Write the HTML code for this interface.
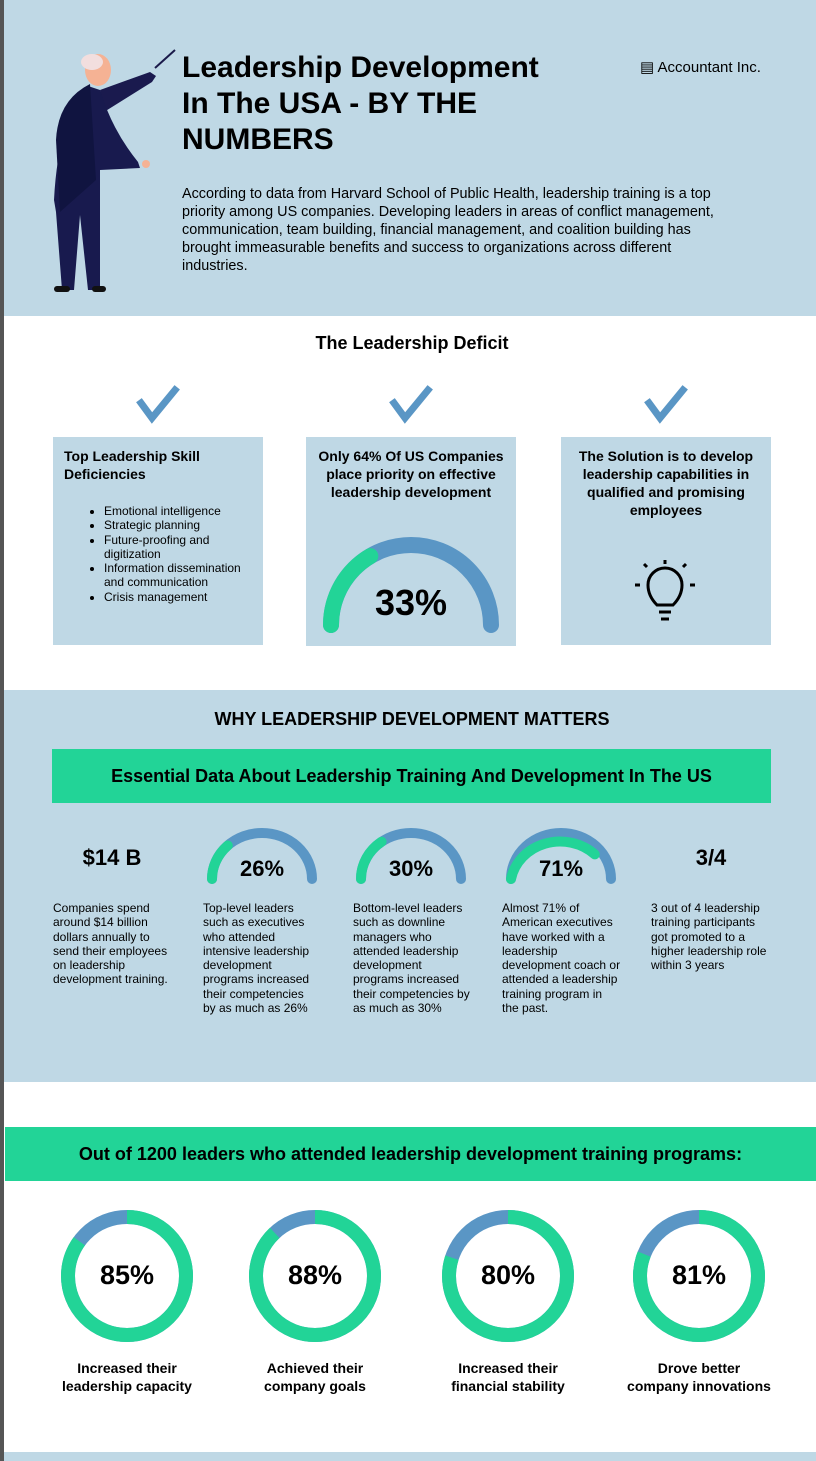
<!DOCTYPE html>
<html><head><meta charset="utf-8"><style>
*{margin:0;padding:0;box-sizing:border-box}
body{width:816px;height:1461px;position:relative;background:#fff;font-family:"Liberation Sans",sans-serif;color:#000;overflow:hidden}
.a{position:absolute}
.blue{background:#bfd8e5}
.c{text-align:center}
.b{font-weight:bold}
.sm{font-size:12px;line-height:14.3px}
</style></head><body>
<div class="a blue" style="left:0;top:0;width:816px;height:316px"></div>
<div class="a blue" style="left:0;top:690px;width:816px;height:392px"></div>
<div class="a blue" style="left:0;top:1452px;width:816px;height:9px"></div>
<div class="a" style="left:0;top:0;width:4px;height:1461px;background:#555"></div>

<svg class="a" style="left:0;top:0" width="816" height="1461">
<line x1="155" y1="68" x2="175" y2="50" stroke="#1a1a4a" stroke-width="2"/>
<path d="M100 90 L150 72 L156 76 L152 82 L104 112 Z" fill="#1a1a4e"/>
<path d="M88 86 Q58 120 54 200 L56 212 L62 290 L74 290 L80 215 L88 290 L100 290 L100 170 L140 168 L138 162 Q112 130 100 90 Z" fill="#181a4e"/>
<path d="M56 140 Q58 100 90 84 L96 180 L60 212 Z" fill="#101440"/>
<ellipse cx="98" cy="70" rx="13" ry="16" fill="#f5b294"/>
<ellipse cx="92" cy="62" rx="11" ry="8" fill="#f2dede"/>
<circle cx="146" cy="164" r="4" fill="#f5b294"/>
<rect x="54" y="286" width="16" height="6" rx="3" fill="#111"/>
<rect x="92" y="286" width="14" height="6" rx="3" fill="#111"/>
<g fill="none" stroke="#5a96c5" stroke-width="7" stroke-linecap="square">
<polyline points="141,403 152,418 175,390"/>
<polyline points="394,403 405,418 428,390"/>
<polyline points="649,403 660,418 683,390"/>
</g>
</svg>

<div class="a b" style="left:182px;top:50px;font-size:30px;line-height:36px;width:380px">Leadership Development In The USA - BY THE NUMBERS</div>
<div class="a" style="left:640px;top:58px;font-size:15px">&#9636; Accountant Inc.</div>
<div class="a" style="left:182px;top:185px;width:548px;font-size:14.4px;line-height:18px">According to data from Harvard School of Public Health, leadership training is a top priority among US companies. Developing leaders in areas of conflict management, communication, team building, financial management, and coalition building has brought immeasurable benefits and success to organizations across different industries.</div>

<div class="a b c" style="left:0;top:333px;width:824px;font-size:18px">The Leadership Deficit</div>
<div class="a blue" style="left:53px;top:437px;width:210px;height:208px"></div>
<div class="a blue" style="left:306px;top:437px;width:210px;height:209px"></div>
<div class="a blue" style="left:561px;top:437px;width:210px;height:208px"></div>
<div class="a b" style="left:64px;top:447px;width:190px;font-size:14px;line-height:18px">Top Leadership Skill Deficiencies</div>
<ul class="a sm" style="left:104px;top:504px;width:150px;list-style:disc">
<li>Emotional intelligence</li><li>Strategic planning</li><li>Future-proofing and digitization</li><li>Information dissemination and communication</li><li>Crisis management</li></ul>
<div class="a b c" style="left:310px;top:447px;width:202px;font-size:14px;line-height:18px">Only 64% Of US Companies place priority on effective leadership development</div>
<div class="a b c" style="left:566px;top:447px;width:200px;font-size:14px;line-height:18px">The Solution is to develop leadership capabilities in qualified and promising employees</div>
<div class="a b c" style="left:311px;top:582px;width:200px;font-size:36px">33%</div>

<div class="a b c" style="left:0;top:709px;width:824px;font-size:18px">WHY LEADERSHIP DEVELOPMENT MATTERS</div>
<div class="a b c" style="left:52px;top:749px;width:719px;height:54px;background:#22d497;font-size:18px;line-height:54px">Essential Data About Leadership Training And Development In The US</div>

<div class="a b c" style="left:53px;top:845px;width:118px;font-size:22px">$14 B</div>
<div class="a b c" style="left:651px;top:845px;width:120px;font-size:22px">3/4</div>
<div class="a b c" style="left:212px;top:856px;width:100px;font-size:22px">26%</div>
<div class="a b c" style="left:361px;top:856px;width:100px;font-size:22px">30%</div>
<div class="a b c" style="left:511px;top:856px;width:100px;font-size:22px">71%</div>
<div class="a sm" style="left:53px;top:901px;width:118px">Companies spend around $14 billion dollars annually to send their employees on leadership development training.</div>
<div class="a sm" style="left:203px;top:901px;width:114px">Top-level leaders such as executives who attended intensive leadership development programs increased their competencies by as much as 26%</div>
<div class="a sm" style="left:353px;top:901px;width:120px">Bottom-level leaders such as downline managers who attended leadership development programs increased their competencies by as much as 30%</div>
<div class="a sm" style="left:502px;top:901px;width:120px">Almost 71% of American executives have worked with a leadership development coach or attended a leadership training program in the past.</div>
<div class="a sm" style="left:651px;top:901px;width:118px">3 out of 4 leadership training participants got promoted to a higher leadership role within 3 years</div>

<div class="a b c" style="left:5px;top:1127px;width:811px;height:54px;background:#22d497;font-size:18px;line-height:54px">Out of 1200 leaders who attended leadership development training programs:</div>

<svg class="a" style="left:0;top:0" width="816" height="1461">
<g fill="none" stroke-linecap="round">
<path d="M331 625 A80 80 0 0 1 491 625" stroke="#5a96c5" stroke-width="16"/>
<path d="M331 625 A80 80 0 0 1 370.3 556.1" stroke="#22d497" stroke-width="16"/>
<path d="M212 879 A50 46 0 0 1 312 879" stroke="#5a96c5" stroke-width="10"/>
<path d="M212 879 A50 46 0 0 1 227.8 845.5" stroke="#22d497" stroke-width="10"/>
<path d="M361 879 A50 46 0 0 1 461 879" stroke="#5a96c5" stroke-width="10"/>
<path d="M361 879 A50 46 0 0 1 381.6 841.7" stroke="#22d497" stroke-width="10"/>
<path d="M511 879 A50 46 0 0 1 611 879" stroke="#5a96c5" stroke-width="10"/>
<path d="M511 879 A50 46 0 0 1 594.8 854.4" stroke="#22d497" stroke-width="10"/>
</g>
<g fill="none" stroke="#000" stroke-width="3">
<path d="M657 605 Q648 596 648 585 A17 17 0 0 1 682 585 Q682 596 673 605 Z"/>
<line x1="659" y1="612" x2="671" y2="612"/><line x1="661" y1="619" x2="669" y2="619"/>
<line x1="665" y1="560" x2="665" y2="564"/><line x1="640" y1="585" x2="635" y2="585"/><line x1="690" y1="585" x2="695" y2="585"/>
<line x1="647" y1="567" x2="644" y2="564"/><line x1="683" y1="567" x2="686" y2="564"/>
</g>
<g fill="none" stroke-width="14">
<g transform="translate(127 1276) rotate(-90)"><circle r="59" stroke="#5a96c5"/><circle r="59" stroke="#22d497" stroke-dasharray="315.1 400"/></g>
<g transform="translate(315 1276) rotate(-90)"><circle r="59" stroke="#5a96c5"/><circle r="59" stroke="#22d497" stroke-dasharray="326.2 400"/></g>
<g transform="translate(508 1276) rotate(-90)"><circle r="59" stroke="#5a96c5"/><circle r="59" stroke="#22d497" stroke-dasharray="296.6 400"/></g>
<g transform="translate(699 1276) rotate(-90)"><circle r="59" stroke="#5a96c5"/><circle r="59" stroke="#22d497" stroke-dasharray="300.3 400"/></g>
</g>
</svg>
<div class="a b c" style="left:67px;top:1260px;width:120px;font-size:27px">85%</div>
<div class="a b c" style="left:255px;top:1260px;width:120px;font-size:27px">88%</div>
<div class="a b c" style="left:448px;top:1260px;width:120px;font-size:27px">80%</div>
<div class="a b c" style="left:639px;top:1260px;width:120px;font-size:27px">81%</div>
<div class="a b c" style="left:47px;top:1359px;width:160px;font-size:14px;line-height:18px">Increased their leadership capacity</div>
<div class="a b c" style="left:235px;top:1359px;width:160px;font-size:14px;line-height:18px">Achieved their company goals</div>
<div class="a b c" style="left:428px;top:1359px;width:160px;font-size:14px;line-height:18px">Increased their financial stability</div>
<div class="a b c" style="left:619px;top:1359px;width:160px;font-size:14px;line-height:18px">Drove better<br>company innovations</div>
</body></html>
